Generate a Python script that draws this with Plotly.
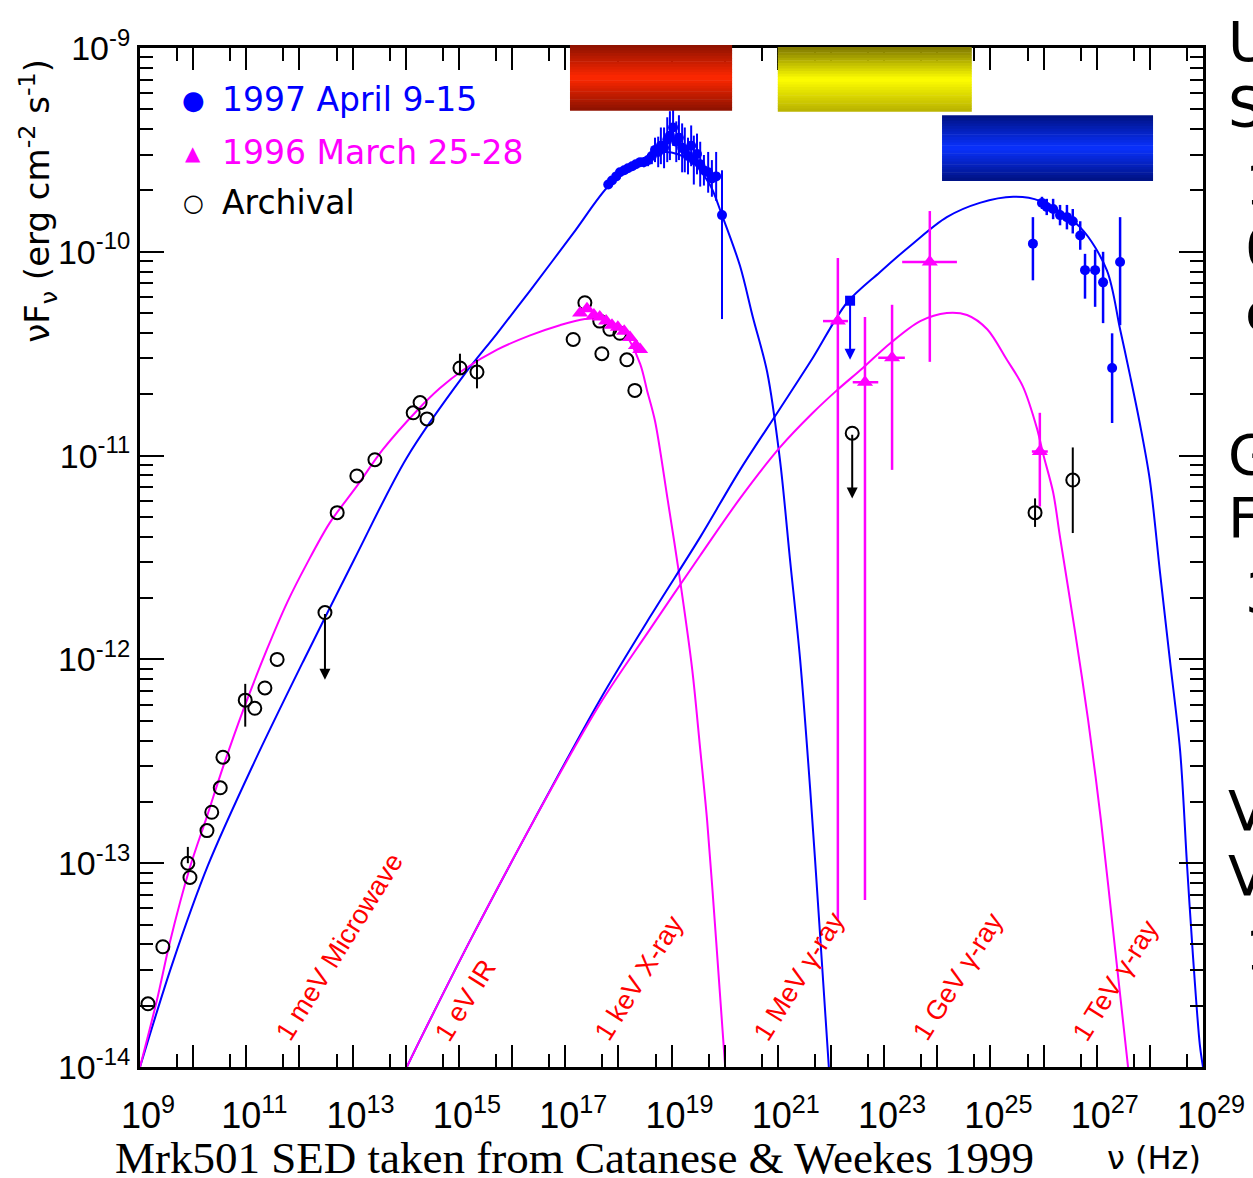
import numpy as np
import plotly.graph_objects as go

# ---------------- data: log10(nu / Hz), log10(nuFnu / erg cm^-2 s^-1) ----------------
# 1997 synchrotron model (blue)
sync97_lognu = [9.00, 9.60, 10.28, 11.14, 12.07, 13.03, 14.02, 15.08, 15.72,
                16.34, 17.15, 17.84, 18.41, 18.88, 19.35, 19.72, 19.95, 20.29, 20.53, 20.80, 21.04,
                21.23, 21.42, 21.61, 21.79, 21.96]
sync97_logf = [-14.00, -13.50, -13.01, -12.51, -12.01, -11.51, -11.01, -10.61, -10.40, -10.19, -9.91,
               -9.67, -9.56, -9.51, -9.55, -9.67, -9.82, -10.07, -10.32, -10.59, -11.02, -11.51, -12.00,
               -12.64, -13.33, -14.00]
# 1996 synchrotron model (magenta)
sync96_lognu = [9.00, 9.32, 9.56, 9.94, 10.26, 10.56, 10.94, 11.39, 11.77, 12.14, 12.57, 13.08, 13.57,
                14.21, 14.64, 15.08, 15.72, 16.34, 16.90, 17.37, 17.75, 18.12, 18.41, 18.54, 18.69, 18.93,
                19.16, 19.39, 19.54, 19.67, 19.84, 20.01]
sync96_logf = [-14.00, -13.67, -13.39, -13.02, -12.77, -12.53, -12.25, -11.95, -11.72, -11.53, -11.33,
               -11.15, -10.97, -10.78, -10.67, -10.58, -10.48, -10.41, -10.36, -10.33, -10.33, -10.40,
               -10.55, -10.68, -10.83, -11.22, -11.61, -12.05, -12.44, -12.79, -13.38, -14.00]
# 1997 inverse-Compton model (blue)
ic97_lognu = [14.02, 14.32, 15.21, 16.41, 17.65, 18.60, 19.54, 20.29, 21.04, 21.66, 22.30, 22.92, 23.54,
              24.18, 24.80, 25.43, 25.93, 26.69, 27.19, 27.44, 27.63, 27.81, 28.00, 28.19, 28.38,
              28.57, 28.70, 28.81, 28.94, 29.00]
ic97_logf = [-14.00, -13.84, -13.38, -12.79, -12.20, -11.79, -11.40, -11.07, -10.77, -10.52, -10.25,
             -10.10, -9.96, -9.83, -9.76, -9.73, -9.75, -9.88, -10.09, -10.38, -10.61, -10.84, -11.12,
             -11.57, -12.01, -12.45, -13.01, -13.45, -13.89, -14.00]
# 1996 inverse-Compton model (magenta)
ic96_lognu = [14.02, 14.32, 15.21, 16.41, 17.65, 18.60, 19.54, 20.29, 21.04, 21.66, 22.11, 22.60, 23.11,
              23.68, 24.18, 24.56, 24.94, 25.31, 25.61, 25.88, 25.99, 26.18, 26.31, 26.59, 26.84,
              27.08, 27.35, 27.59]
ic96_logf = [-14.00, -13.84, -13.38, -12.79, -12.22, -11.85, -11.49, -11.21, -10.96, -10.79, -10.68,
             -10.57, -10.45, -10.34, -10.30, -10.31, -10.38, -10.53, -10.66, -10.87, -10.99, -11.18,
             -11.40, -11.86, -12.30, -12.79, -13.43, -14.00]

# 1997 April 9-15 X-ray data (blue)
xr97_lognu = [17.81, 17.88, 17.96, 18.03, 18.11, 18.18, 18.26, 18.33, 18.41, 18.48, 18.56, 18.63, 18.69,
              18.75, 18.80, 18.86, 18.92, 18.97, 19.03, 19.09, 19.14, 19.20, 19.25, 19.31, 19.37,
              19.42, 19.48, 19.54, 19.61, 19.69, 19.76, 19.84, 19.95]
xr97_logf = [-9.67, -9.65, -9.63, -9.61, -9.60, -9.59, -9.58, -9.57, -9.56, -9.56, -9.55, -9.53, -9.50,
             -9.51, -9.48, -9.49, -9.45, -9.43, -9.39, -9.46, -9.44, -9.49, -9.50, -9.53, -9.48,
             -9.55, -9.52, -9.57, -9.60, -9.61, -9.64, -9.63, -9.82]
xr97_err_up = [0.015, 0.015, 0.015, 0.015, 0.015, 0.015, 0.015, 0.02, 0.02, 0.025, 0.03, 0.04, 0.06,
               0.075, 0.09, 0.10, 0.11, 0.12, 0.13, 0.10, 0.11, 0.12, 0.11, 0.09, 0.10, 0.12, 0.10,
               0.11, 0.075, 0.10, 0.09, 0.12, 0.22]
xr97_err_dn = [0.015, 0.015, 0.015, 0.015, 0.015, 0.015, 0.015, 0.02, 0.02, 0.025, 0.03, 0.04, 0.06,
               0.075, 0.09, 0.10, 0.11, 0.12, 0.09, 0.10, 0.11, 0.12, 0.11, 0.09, 0.10, 0.12, 0.10,
               0.11, 0.075, 0.10, 0.09, 0.12, 0.51]
# 1997 gamma-ray data (blue)
g97_lognu = [25.80, 25.97, 26.06, 26.18, 26.31, 26.44, 26.55, 26.69, 26.78, 26.97, 27.12, 27.29, 27.44]
g97_logf = [-9.96, -9.76, -9.78, -9.79, -9.82, -9.83, -9.85, -9.92, -10.09, -10.09, -10.15, -10.57, -10.05]
g97_err_up = [0.13, 0.03, 0.04, 0.05, 0.05, 0.06, 0.06, 0.07, 0.08, 0.10, 0.15, 0.17, 0.22]
g97_err_dn = [0.18, 0.03, 0.04, 0.05, 0.05, 0.06, 0.06, 0.07, 0.14, 0.18, 0.20, 0.27, 0.31]
ul97_lognu = [22.36]
ul97_logf = [-10.24]
ul97_logf_tip = [-10.53]

# 1996 March 25-28 data (magenta)
xr96_lognu = [17.28, 17.41, 17.54, 17.65, 17.77, 17.88, 17.99, 18.11, 18.22, 18.33, 18.41]
xr96_logf = [-10.30, -10.28, -10.31, -10.32, -10.34, -10.36, -10.37, -10.39, -10.42, -10.46, -10.48]
g96_lognu = [22.13, 22.64, 23.15, 23.86, 25.93]
g96_logf = [-10.34, -10.64, -10.52, -10.05, -10.98]
g96_lognu_lo = [21.85, 22.41, 22.89, 23.34, 25.78]
g96_lognu_hi = [22.32, 22.89, 23.39, 24.37, 26.08]
g96_logf_hi = [-10.03, -10.32, -10.26, -9.80, -10.79]
g96_logf_lo = [-13.28, -13.18, -11.07, -10.54, -11.25]

# Archival data (open circles)
arc_lognu = [9.15, 9.43, 9.90, 9.94, 10.26, 10.35, 10.51, 10.56, 10.98, 11.16, 11.35, 11.58, 12.71,
             13.08, 13.42, 14.14, 14.27, 14.40, 15.02, 15.34, 17.37, 17.15, 17.69, 18.16, 18.31,
             17.65, 17.84, 18.03, 25.84, 26.55]
arc_logf = [-13.69, -13.41, -13.00, -13.07, -12.84, -12.75, -12.63, -12.48, -12.20, -12.24, -12.14,
            -12.00, -11.28, -11.10, -11.02, -10.79, -10.74, -10.82, -10.57, -10.59, -10.25, -10.43,
            -10.50, -10.53, -10.68, -10.34, -10.38, -10.40, -11.28, -11.12]
arc_err_up = [0, 0, 0.08, 0, 0, 0, 0, 0, 0.08, 0, 0, 0, 0, 0, 0, 0, 0, 0, 0.07, 0.06, 0, 0, 0, 0, 0,
              0, 0, 0, 0.07, 0.16]
arc_err_dn = [0, 0, 0, 0, 0, 0, 0, 0, 0.13, 0, 0, 0, 0, 0, 0, 0, 0, 0, 0.03, 0.08, 0, 0, 0, 0, 0,
              0, 0, 0, 0.07, 0.26]
arcul_lognu = [12.48, 22.40]
arcul_logf = [-11.77, -10.89]
arcul_logf_tip = [-12.10, -11.21]

# energy marker labels
energy_labels = ["1 meV Microwave", "1 eV IR", "1 keV X-ray", "1 MeV γ-ray", "1 GeV γ-ray", "1 TeV γ-ray"]
energy_eV = [1e-3, 1.0, 1e3, 1e6, 1e9, 1e12]
# instrument bands (log10 nu)
band_lo = [17.09, 21.00, 24.09]
band_hi = [20.14, 24.65, 28.06]

# tick labels
x_exps = list(range(9, 30))
y_exps = list(range(-14, -8))

# ---------------- figure ----------------
BLUE = "#0000FF"
MAG = "#FF00FF"
XR = (9, 29)


def p(a):
    return 10 ** np.asarray(a, dtype=float)


def errs(lf, up, dn):
    lf = np.asarray(lf, float)
    return (10 ** (lf + np.asarray(up)) - 10 ** lf, 10 ** lf - 10 ** (lf - np.asarray(dn)))


fig = go.Figure()

# model curves
for lx, ly, c in [(sync97_lognu, sync97_logf, BLUE), (sync96_lognu, sync96_logf, MAG),
                  (ic97_lognu, ic97_logf, BLUE), (ic96_lognu, ic96_logf, MAG)]:
    fig.add_trace(go.Scatter(x=p(lx), y=p(ly), mode="lines",
                             line=dict(color=c, width=2, shape="spline", smoothing=0.9),
                             showlegend=False, hoverinfo="skip"))

# archival
u, d = errs(arc_logf, arc_err_up, arc_err_dn)
fig.add_trace(go.Scatter(x=p(arc_lognu), y=p(arc_logf), mode="markers",
                         marker=dict(symbol="circle-open", size=13, color="black", line=dict(width=2)),
                         error_y=dict(type="data", array=u, arrayminus=d, color="black", thickness=2, width=0),
                         showlegend=False))
fig.add_trace(go.Scatter(x=p(arcul_lognu), y=p(arcul_logf), mode="markers",
                         marker=dict(symbol="circle-open", size=13, color="black", line=dict(width=2)),
                         showlegend=False))

# 1996 data
fig.add_trace(go.Scatter(x=p(xr96_lognu), y=p(xr96_logf), mode="markers",
                         marker=dict(symbol="triangle-up", size=14, color=MAG), showlegend=False))
gy = np.asarray(g96_logf)
fig.add_trace(go.Scatter(
    x=p(g96_lognu), y=p(g96_logf), mode="markers",
    marker=dict(symbol="triangle-up", size=14, color=MAG),
    error_y=dict(type="data", array=p(g96_logf_hi) - p(gy), arrayminus=p(gy) - p(g96_logf_lo),
                 color=MAG, thickness=2.5, width=0),
    error_x=dict(type="data", array=p(g96_lognu_hi) - p(g96_lognu), arrayminus=p(g96_lognu) - p(g96_lognu_lo),
                 color=MAG, thickness=2.5, width=0),
    showlegend=False))

# 1997 data
u, d = errs(xr97_logf, xr97_err_up, xr97_err_dn)
fig.add_trace(go.Scatter(x=p(xr97_lognu), y=p(xr97_logf), mode="markers",
                         marker=dict(symbol="circle", size=10, color=BLUE),
                         error_y=dict(type="data", array=u, arrayminus=d, color=BLUE, thickness=2, width=0),
                         showlegend=False))
u, d = errs(g97_logf, g97_err_up, g97_err_dn)
fig.add_trace(go.Scatter(x=p(g97_lognu), y=p(g97_logf), mode="markers",
                         marker=dict(symbol="circle", size=10, color=BLUE),
                         error_y=dict(type="data", array=u, arrayminus=d, color=BLUE, thickness=2.5, width=0),
                         showlegend=False))
fig.add_trace(go.Scatter(x=p(ul97_lognu), y=p(ul97_logf), mode="markers",
                         marker=dict(symbol="square", size=10, color=BLUE), showlegend=False))

annotations = []
# upper-limit arrows
for lx, ly, lt, c in list(zip(ul97_lognu, ul97_logf, ul97_logf_tip, [BLUE])) + \
        list(zip(arcul_lognu, arcul_logf, arcul_logf_tip, ["black", "black"])):
    annotations.append(dict(x=lx, y=lt, ax=lx, ay=ly, xref="x", yref="y", axref="x", ayref="y",
                            text="", showarrow=True, arrowhead=2, arrowsize=1.1, arrowwidth=2,
                            arrowcolor=c, standoff=0, startstandoff=0))

# energy labels
for lab, e in zip(energy_labels, energy_eV):
    annotations.append(dict(x=np.log10(e * 2.418e14), y=-13.91, xref="x", yref="y", text=lab,
                            textangle=-58, xanchor="left", yanchor="bottom", showarrow=False,
                            font=dict(family="Liberation Sans", size=27, color="red")))

# legend
leg = [("●", "1997 April 9-15", BLUE, 0.949, 26), ("▲", "1996 March 25-28", MAG, 0.897, 20),
       ("○", "Archival", "black", 0.848, 24)]
for sym, txt, c, yy, ss in leg:
    annotations.append(dict(x=0.0499, y=yy, xref="paper", yref="paper", text=sym, showarrow=False,
                            xanchor="center", yanchor="middle", font=dict(family="DejaVu Sans", size=ss, color=c)))
    annotations.append(dict(x=0.0753, y=yy, xref="paper", yref="paper", text=txt, showarrow=False,
                            xanchor="left", yanchor="middle", font=dict(family="DejaVu Sans", size=33, color=c)))

# axis titles / caption
annotations.append(dict(x=-0.096, y=0.850, xref="paper", yref="paper", textangle=-90, showarrow=False,
                        text="νF<sub>ν</sub> (erg cm<sup>-2</sup> s<sup>-1</sup>)", xanchor="center",
                        yanchor="middle", font=dict(family="DejaVu Sans", size=34, color="black")))
annotations.append(dict(x=0.954, y=-0.089, xref="paper", yref="paper", text="ν (Hz)", showarrow=False,
                        xanchor="center", yanchor="middle", font=dict(family="DejaVu Sans", size=32, color="black")))
annotations.append(dict(x=0.409, y=-0.089, xref="paper", yref="paper",
                        text="Mrk501 SED taken from Catanese & Weekes 1999", showarrow=False,
                        xanchor="center", yanchor="middle", font=dict(family="Liberation Serif", size=45, color="black")))

# side text (clipped at the window edge)
side = [("UV/X-ray", 1.0216, 1.006), ("Swift", 1.0216, 0.943), ("1 eV", 1.0376, 0.866),
        ("0.2 keV", 1.0376, 0.804), ("eV", 1.0376, 0.741), ("Gamma-ray", 1.0216, 0.601),
        ("Fermi", 1.0216, 0.539), ("30 MeV", 1.0376, 0.466), ("VHE", 1.0216, 0.252),
        ("VERITAS", 1.0216, 0.188), ("100 GeV", 1.0376, 0.115)]
for t, xx, yy in side:
    annotations.append(dict(x=xx, y=yy, xref="paper", yref="paper", text=t, showarrow=False,
                            xanchor="left", yanchor="middle", font=dict(family="DejaVu Sans", size=56, color="black")))

# gradient bands
shapes = []
band_cols = [((140, 18, 0), (255, 40, 0), (140, 18, 0)),
             ((125, 118, 0), (255, 255, 0), (185, 178, 0)),
             ((0, 18, 130), (10, 50, 255), (0, 18, 130))]
band_y = [(1.003, 0.939), (1.001, 0.938), (0.934, 0.870)]
N = 24
for lo, hi, cols, (yt, yb) in zip(band_lo, band_hi, band_cols, band_y):
    x0 = (lo - XR[0]) / (XR[1] - XR[0])
    x1 = (hi - XR[0]) / (XR[1] - XR[0])
    top, mid, bot = [np.array(c, float) for c in cols]
    for i in range(N):
        f = (i + 0.5) / N
        c = top + (mid - top) * (f / 0.5) if f < 0.5 else mid + (bot - mid) * ((f - 0.5) / 0.5)
        ya = yt - (yt - yb) * i / N
        yb2 = yt - (yt - yb) * (i + 1) / N - 0.0005
        shapes.append(dict(type="rect", xref="paper", yref="paper", x0=x0, x1=x1, y0=yb2, y1=ya,
                           fillcolor="rgb(%d,%d,%d)" % tuple(c.astype(int)), line=dict(width=0), layer="above"))

fig.update_layout(
    width=1253, height=1178, margin=dict(l=140, r=50, t=48, b=111, autoexpand=False),
    paper_bgcolor="white", plot_bgcolor="white", showlegend=False,
    annotations=annotations, shapes=shapes,
    xaxis=dict(type="log", range=list(XR), showgrid=False, zeroline=False, automargin=False,
               showline=True, linecolor="black", linewidth=3, mirror="ticks",
               ticks="inside", ticklen=22, tickwidth=2, tickcolor="black",
               tickmode="array", tickvals=[10.0 ** k for k in x_exps],
               ticktext=["10<sup>%d</sup>" % k if k % 2 == 1 else "" for k in x_exps],
               tickfont=dict(family="Liberation Sans", size=36, color="black"), ticklabelshift=8,
               ticklabelstandoff=15,
               minor=dict(tickmode="array", tickvals=[5 * 10.0 ** k for k in x_exps[:-1]],
                          ticks="inside", ticklen=13, tickwidth=2, tickcolor="black", showgrid=False)),
    yaxis=dict(type="log", range=[-14, -9], showgrid=False, zeroline=False, automargin=False,
               showline=True, linecolor="black", linewidth=3, mirror="ticks",
               ticks="inside", ticklen=24, tickwidth=2, tickcolor="black",
               tickmode="array", tickvals=[10.0 ** k for k in y_exps],
               ticktext=["10<sup>%d</sup>" % k for k in y_exps],
               tickfont=dict(family="Liberation Sans", size=34, color="black"),
               minor=dict(tickmode="array",
                          tickvals=[m * 10.0 ** k for k in y_exps[:-1] for m in range(2, 10)],
                          ticks="inside", ticklen=13, tickwidth=2, tickcolor="black", showgrid=False)),
)

fig.write_html("out.html")
